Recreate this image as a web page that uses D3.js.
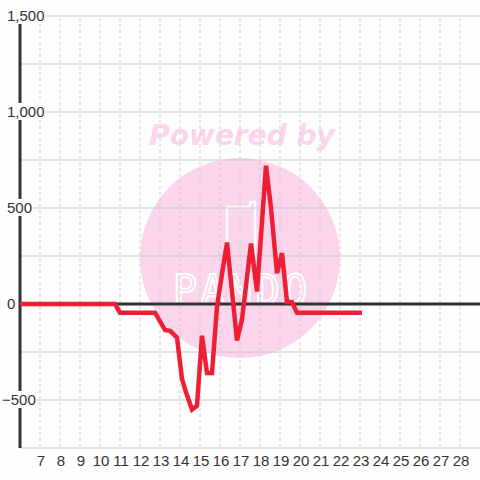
<!DOCTYPE html>
<html lang="en">
  <head>
    <meta charset="UTF-8" />
    <title>Line chart</title>
    <script src="https://d3js.org/d3.v7.min.js"></script>
    <style>
      body {
        margin: 0;
        background: #fdfefd;
        font-family: "Liberation Sans", Arial, sans-serif;
      }
    </style>
  </head>
  <body>
    <svg id="chart" width="480" height="480"></svg>
    <script>
      // values (day of month, value)
      const days = [6, 10.75, 11, 12.75, 13.25, 13.5, 13.85, 14.1, 14.3, 14.6, 14.85,
        15.1, 15.35, 15.6, 15.85, 16.0, 16.35, 16.85, 17.1, 17.55, 17.85, 18.3,
        18.55, 18.85, 19.1, 19.35, 19.6, 19.85, 23.1];
      const values = [0, 0, -45, -45, -135, -140, -175, -390, -460, -550, -530,
        -165, -360, -360, -15, 90, 320, -190, -80, 315, 65, 720,
        500, 160, 265, 10, 10, -45, -45];
      const xTicks = d3.range(7, 29);
      const yTicks = [-500, 0, 500, 1000, 1500];
      const yGrid = d3.range(-750, 1501, 250);

      const svg = d3.select("#chart");
      const bg = "#fdfefd";
      svg.append("rect").attr("width", 480).attr("height", 480).attr("fill", bg);

      const x = d3.scaleLinear().domain([6, 29]).range([20, 480]);
      const y = d3.scaleLinear().domain([-750, 1500]).range([448, 16]);

      // watermark
      svg.append("circle")
        .attr("cx", 240).attr("cy", 258).attr("r", 100)
        .attr("fill", "#fbd5eb");
      svg.append("text")
        .attr("x", 242).attr("y", 145)
        .attr("text-anchor", "middle")
        .style("font-family", "DejaVu Sans")
        .style("font-weight", "bold")
        .style("font-style", "italic")
        .style("font-size", "28px")
        .attr("fill", "#fbd5eb")
        .text("Powered by");
      svg.append("path")
        .attr("d", "M227,258 V207 H250 V202 H255 V258")
        .attr("fill", "none").attr("stroke", "#fff").attr("stroke-width", 2.5);
      svg.append("text")
        .attr("x", 240).attr("y", 304)
        .attr("text-anchor", "middle")
        .style("font-family", "DejaVu Sans Mono")
        .style("font-size", "40px")
        .attr("fill", "none").attr("stroke", "#fff").attr("stroke-width", 2)
        .attr("textLength", 134)
        .text("PANDO");

      // grid
      svg.append("g").selectAll("line")
        .data(xTicks)
        .join("line")
        .attr("x1", (d) => x(d)).attr("x2", (d) => x(d))
        .attr("y1", 18).attr("y2", 448)
        .attr("stroke", "#ccc").attr("stroke-dasharray", "3,3");
      svg.append("g").selectAll("line")
        .data(yGrid)
        .join("line")
        .attr("x1", 20).attr("x2", 480)
        .attr("y1", (d) => y(d)).attr("y2", (d) => y(d))
        .attr("stroke", "#c8c8c8").attr("stroke-width", 1.2);

      // axes lines
      svg.append("line")
        .attr("x1", 20).attr("x2", 480).attr("y1", y(0)).attr("y2", y(0))
        .attr("stroke", "#333").attr("stroke-width", 3);
      svg.append("line")
        .attr("x1", 20).attr("x2", 20).attr("y1", y(1500)).attr("y2", 448)
        .attr("stroke", "#333").attr("stroke-width", 3);

      // data line
      const data = days.map((d, i) => [d, values[i]]);
      svg.append("path")
        .datum(data)
        .attr("fill", "none")
        .attr("stroke", "#ee1f35")
        .attr("stroke-width", 4.5)
        .attr("stroke-linejoin", "miter")
        .attr("stroke-miterlimit", 4)
        .attr("d", d3.line().x((d) => x(d[0])).y((d) => y(d[1])));

      // y labels with background
      const fmt = d3.format(",");
      const yl = svg.append("g").selectAll("g").data(yTicks).join("g");
      yl.append("rect").attr("fill", bg);
      yl.append("text")
        .attr("x", (d) => (d < 0 ? 2 : 7))
        .attr("y", (d) => y(d) + 1)
        .attr("dominant-baseline", "middle")
        .style("font-size", "15px")
        .attr("fill", "#333")
        .text((d) => fmt(d));
      yl.each(function () {
        const b = d3.select(this).select("text").node().getBBox();
        d3.select(this).select("rect")
          .attr("x", b.x - 1).attr("y", b.y)
          .attr("width", b.width + 2).attr("height", b.height);
      });

      // x labels
      svg.append("g").selectAll("text")
        .data(xTicks)
        .join("text")
        .attr("x", (d) => x(d) + 1)
        .attr("y", 462)
        .attr("text-anchor", "middle")
        .attr("dominant-baseline", "middle")
        .style("font-size", "15px")
        .attr("fill", "#333")
        .text((d) => d);
    </script>
  </body>
</html>
